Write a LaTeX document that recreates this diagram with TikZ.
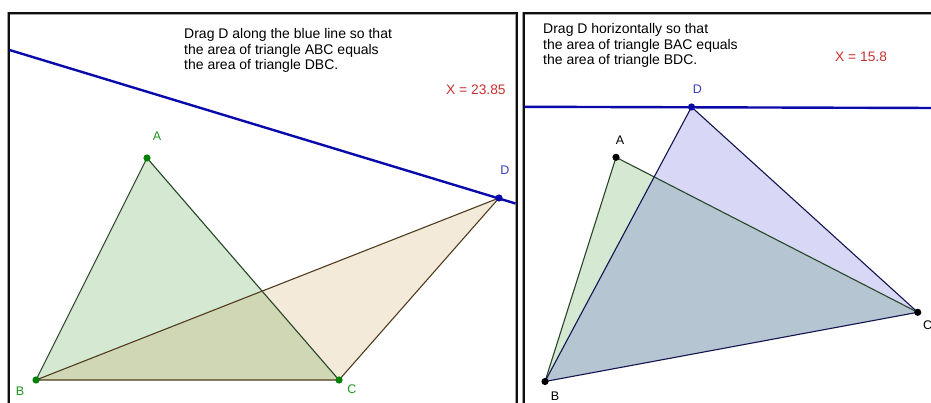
\documentclass[tikz,border=0pt]{standalone}
\usepackage{fontspec}
\setmainfont{Liberation Sans}
\definecolor{frame}{RGB}{15,15,15}
\definecolor{halo}{RGB}{160,160,160}
\definecolor{ggblue}{RGB}{10,10,170}
\definecolor{ggred}{RGB}{200,50,50}
\definecolor{gggreen}{RGB}{0,130,0}
\definecolor{lblgreen}{RGB}{30,150,30}
\definecolor{greenfill}{RGB}{212,232,210}
\definecolor{tanbase}{RGB}{190,140,50}
\definecolor{lavbase}{RGB}{60,60,210}
\definecolor{greenedge}{RGB}{40,70,40}
\definecolor{brownedge}{RGB}{80,60,30}
\definecolor{navyedge}{RGB}{20,20,80}
\tikzset{
  panel/.style={draw=frame,line width=2pt},
  panelhalo/.style={draw=halo,line width=3.4pt},
  guide/.style={draw=ggblue,line width=2.4pt},
  edge/.style={line width=1.1pt},
  info/.style={anchor=north west,inner sep=0pt,align=left,font=\fontsize{14}{15.7}\selectfont},
  val/.style={anchor=north west,inner sep=0pt,text=ggred,font=\fontsize{13.8}{15.5}\selectfont},
  ptlabel/.style={inner sep=0pt,font=\fontsize{12.5}{14}\selectfont},
}
\begin{document}
\begin{tikzpicture}[x=1pt,y=-1pt]
\clip (0,0) rectangle (931,403);
\fill[white] (0,0) rectangle (931,403);
% panels
\draw[panelhalo] (8.5,420) -- (8.5,13.5) -- (516.5,13.5) -- (516.5,420);
\draw[panel] (8.5,420) -- (8.5,13.5) -- (516.5,13.5) -- (516.5,420);
\draw[panelhalo] (523.5,420) -- (523.5,13.5) -- (940,13.5);
\draw[panel] (523.5,420) -- (523.5,13.5) -- (940,13.5);

% ---------- left panel ----------
\coordinate (A1) at (147,158);
\coordinate (B1) at (36,380);
\coordinate (C1) at (339,380);
\coordinate (D1) at (499,198);
\coordinate (L1s) at (9.5,50);
\coordinate (L1e) at (515.5,203.5);

\fill[greenfill] (A1) -- (B1) -- (C1) -- cycle;
\fill[tanbase,fill opacity=0.18] (D1) -- (B1) -- (C1) -- cycle;
\draw[edge,greenedge] (B1) -- (A1) -- (C1);
\draw[edge,brownedge] (B1) -- (D1) -- (C1) -- (B1);
\draw[guide] (L1s) -- (L1e);
\fill[gggreen] (A1) circle (3.6);
\fill[gggreen] (B1) circle (3.6);
\fill[gggreen] (C1) circle (3.6);
\fill[ggblue] (D1) circle (3.6);
\node[ptlabel,text=lblgreen] (lA1) at (157,136) {A};
\node[ptlabel,text=lblgreen] (lB1) at (20,391) {B};
\node[ptlabel,text=lblgreen] (lC1) at (352,389) {C};
\node[ptlabel,text=ggblue!80!white] (lD1) at (505,170.5) {D};
\node[info] (t1) at (184,28) {Drag D along the blue line so that\\the area of triangle ABC equals\\the area of triangle DBC.};
\node[val] (x1) at (446,85) {X = 23.85};

% ---------- right panel ----------
\coordinate (A2) at (616,157.3);
\coordinate (B2) at (545,381.5);
\coordinate (C2) at (917.7,312.3);
\coordinate (D2) at (691.5,107);
\coordinate (L2s) at (524.5,106.8);
\coordinate (L2e) at (935,108);

\fill[greenfill] (B2) -- (A2) -- (C2) -- cycle;
\fill[lavbase,fill opacity=0.2] (B2) -- (D2) -- (C2) -- cycle;
\draw[edge,greenedge] (B2) -- (A2) -- (C2);
\draw[edge,navyedge] (B2) -- (D2) -- (C2) -- (B2);
\draw[guide] (L2s) -- (L2e);
\fill[black] (A2) circle (3.6);
\fill[black] (B2) circle (3.6);
\fill[black] (C2) circle (3.6);
\fill[ggblue] (D2) circle (3.6);
\node[ptlabel] (lA2) at (620,140.5) {A};
\node[ptlabel] (lB2) at (555,396.5) {B};
\node[ptlabel] (lC2) at (927.5,325.5) {C};
\node[ptlabel,text=ggblue!80!white] (lD2) at (697.5,89) {D};
\node[info] (t2) at (543,23) {Drag D horizontally so that\\the area of triangle BAC equals\\the area of triangle BDC.};
\node[val] (x2) at (835,51.5) {X = 15.8};
\end{tikzpicture}
\end{document}
